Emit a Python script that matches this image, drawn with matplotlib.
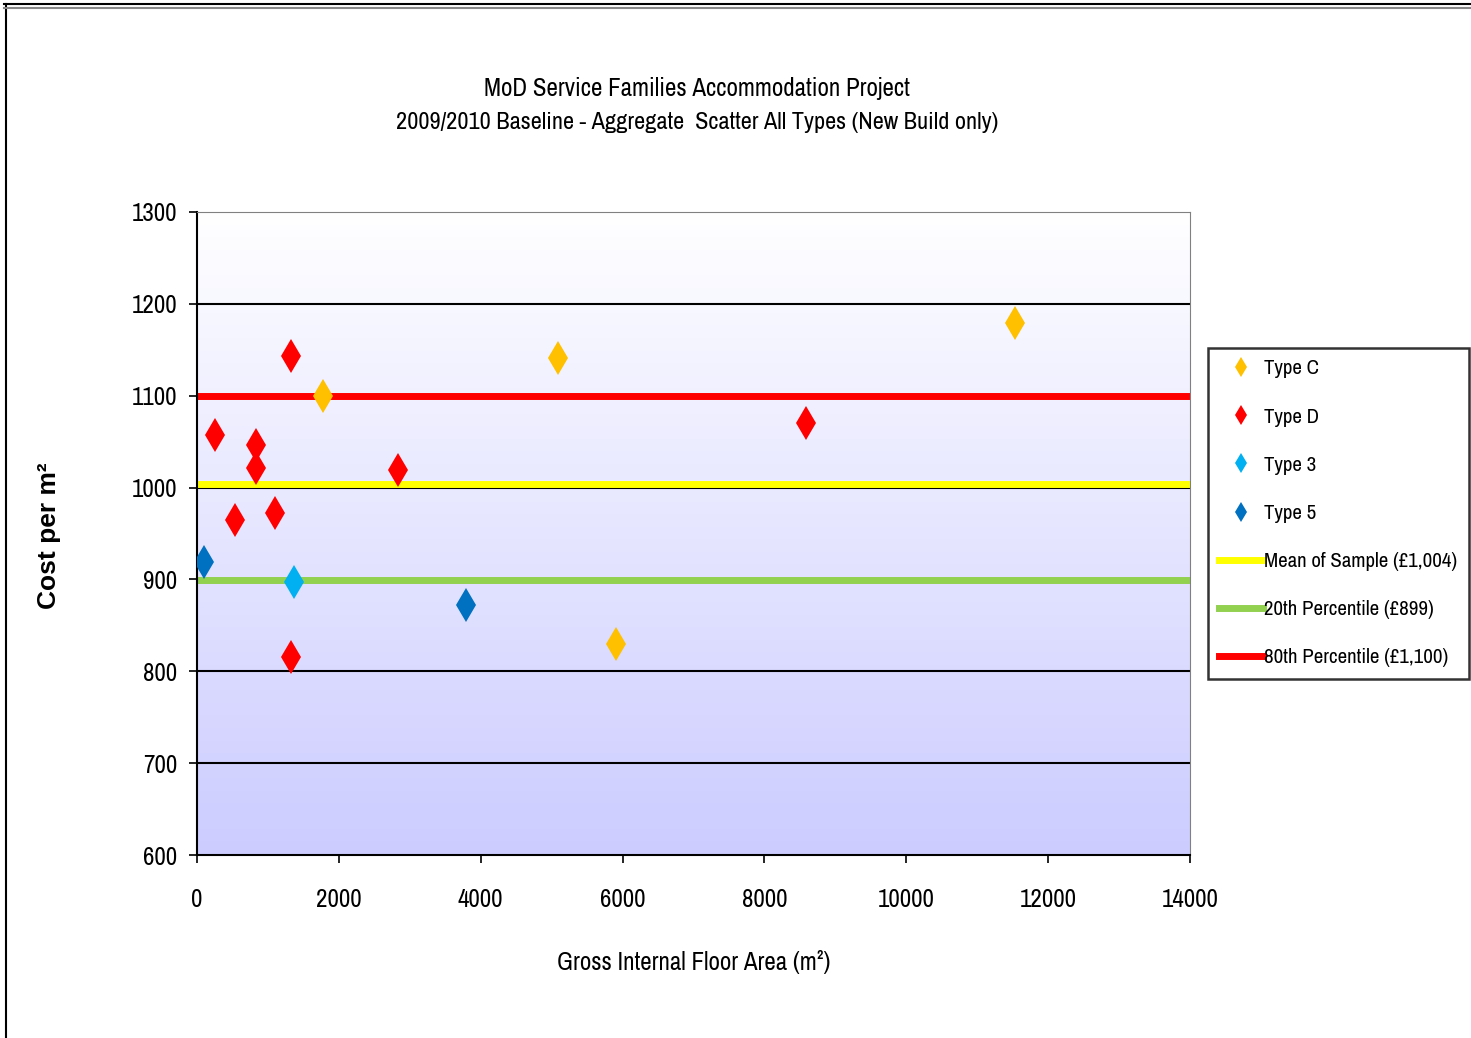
import matplotlib
matplotlib.use('Agg')
import matplotlib.pyplot as plt
import numpy as np
from matplotlib.lines import Line2D

plt.rcParams['font.family'] = ['Archivo Narrow', 'PT Sans Narrow', 'Liberation Sans', 'DejaVu Sans']

# data
typeC_x = [1780, 5090, 11530, 5910]
typeC_y = [1100, 1141, 1179, 830]
typeD_x = [1325, 254, 832, 832, 536, 1100, 2834, 1325, 8586]
typeD_y = [1143, 1057, 1046, 1021, 965, 972, 1019, 816, 1070]
type3_x = [1368]
type3_y = [897]
type5_x = [99, 3792]
type5_y = [919, 872]

mean_val = 1004
p20_val = 899
p80_val = 1100

fig = plt.figure(figsize=(14.71, 10.38), dpi=100)
ax = fig.add_axes([0.1339, 0.1763, 0.8090 - 0.1339, 0.7958 - 0.1763])

# gradient background, lavender at the bottom to white at the top
grad = np.linspace(0, 1, 256).reshape(-1, 1, 1)
bot = np.array([0.80, 0.80, 1.0])
top = np.array([1.0, 1.0, 1.0])
img = bot + (top - bot) * grad * np.ones((1, 1, 3))
ax.imshow(img, extent=[0, 14000, 600, 1300], origin='lower', aspect='auto', zorder=0)

for yv in range(700, 1300, 100):
    ax.axhline(yv, color='black', lw=1.5, zorder=1)

ax.axhline(p80_val, color='#FF0000', lw=5, zorder=2)
ax.axhline(mean_val, color='#FFFF00', lw=5, zorder=2)
ax.axhline(p20_val, color='#92D050', lw=5, zorder=2)

ms = 17
ax.plot(typeC_x, typeC_y, 'd', color='#FFC000', ms=ms, mew=0, zorder=3)
ax.plot(typeD_x, typeD_y, 'd', color='#FF0000', ms=ms, mew=0, zorder=3)
ax.plot(type3_x, type3_y, 'd', color='#00B0F0', ms=ms, mew=0, zorder=3)
ax.plot(type5_x, type5_y, 'd', color='#0070C0', ms=ms, mew=0, zorder=3)

ax.set_xlim(0, 14000)
ax.set_ylim(600, 1300)
ax.set_xticks(range(0, 14001, 2000))
ax.set_yticks(range(600, 1301, 100))
ax.tick_params(labelsize=18, length=6, width=1.2, direction='out')
ax.tick_params(axis='x', pad=18)
ax.tick_params(axis='y', pad=8)
ax.spines['left'].set_linewidth(1.5)
ax.spines['bottom'].set_linewidth(1.5)
ax.spines['top'].set_color('#808080')
ax.spines['right'].set_color('#808080')

ax.set_xlabel('Gross Internal Floor Area (m²)', fontsize=18, labelpad=28)
fig.text(0.033, 0.4836, 'Cost per m²', rotation=90, fontsize=19, fontweight='bold',
         family=['Liberation Sans', 'DejaVu Sans'], ha='center', va='center')

fig.text(0.474, 0.915, 'MoD Service Families Accommodation Project', fontsize=18, ha='center', va='center')
fig.text(0.474, 0.882, '2009/2010 Baseline - Aggregate  Scatter All Types (New Build only)',
         fontsize=17.5, ha='center', va='center')

handles = [
    Line2D([], [], marker='d', ls='none', color='#FFC000', ms=10, mew=0),
    Line2D([], [], marker='d', ls='none', color='#FF0000', ms=10, mew=0),
    Line2D([], [], marker='d', ls='none', color='#00B0F0', ms=10, mew=0),
    Line2D([], [], marker='d', ls='none', color='#0070C0', ms=10, mew=0),
    Line2D([], [], color='#FFFF00', lw=5),
    Line2D([], [], color='#92D050', lw=5),
    Line2D([], [], color='#FF0000', lw=5),
]
labels = ['Type C', 'Type D', 'Type 3', 'Type 5', 'Mean of Sample (£1,004)',
          '20th Percentile (£899)', '80th Percentile (£1,100)']
leg = fig.legend(handles, labels, loc='upper left', bbox_to_anchor=(1208 / 1471, 1 - 348 / 1038),
                 fontsize=15, frameon=True, fancybox=False, handlelength=2.1, handletextpad=0.05,
                 labelspacing=1.4, borderpad=0.55, borderaxespad=0)
leg.get_frame().set_edgecolor('black')
leg.get_frame().set_linewidth(1.8)

# outer chart frame
fig.add_artist(Line2D([0.004, 0.004], [0, 0.996], color='black', lw=1.5, transform=fig.transFigure))
fig.add_artist(Line2D([0.003, 1], [0.996, 0.996], color='black', lw=1.5, transform=fig.transFigure))
fig.add_artist(Line2D([0.003, 1], [0.992, 0.992], color='#888888', lw=1.5, transform=fig.transFigure))

fig.savefig('out.png', dpi=100)
